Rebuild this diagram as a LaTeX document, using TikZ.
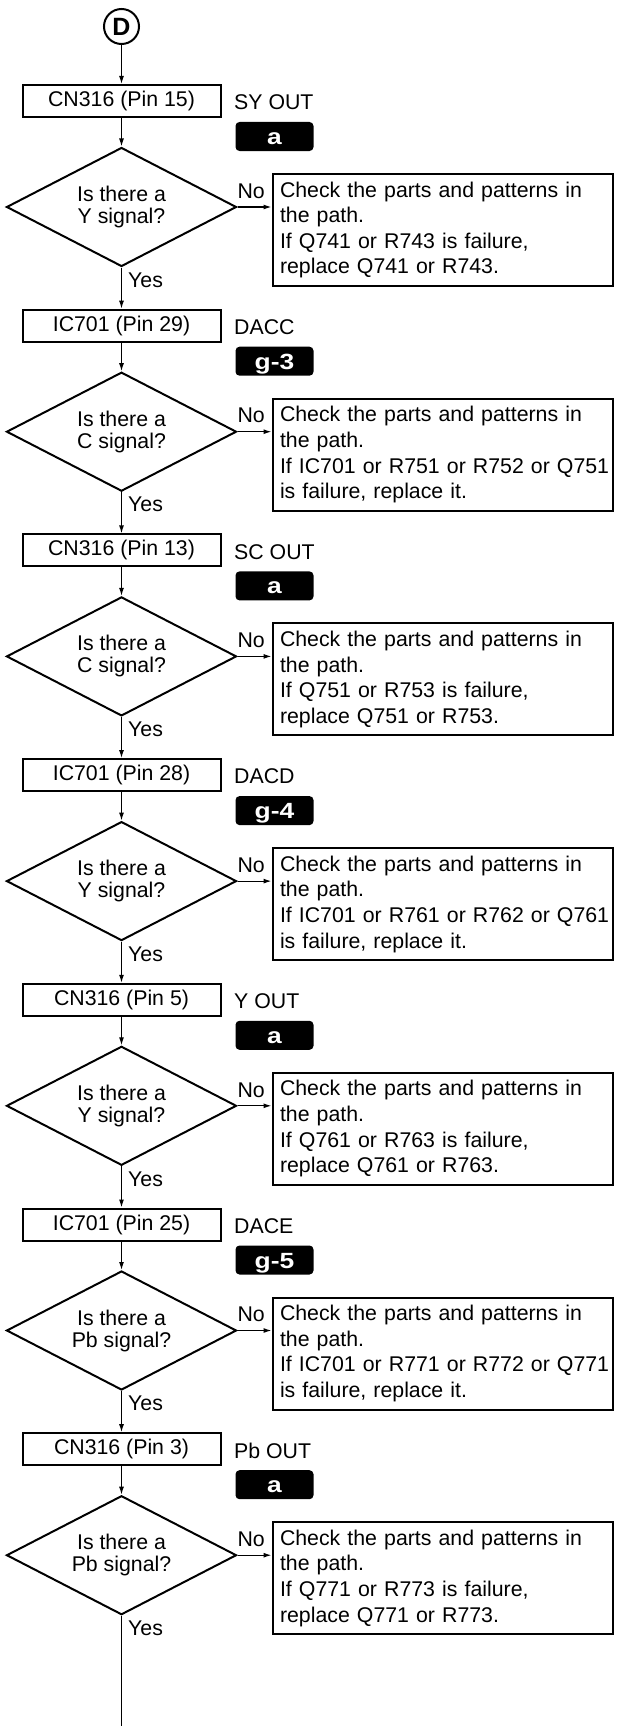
\documentclass[tikz,border=0pt]{standalone}
\usepackage{fontspec}
\setmainfont{Liberation Sans}
\newfontfamily\badgefont[FakeStretch=1.2]{Liberation Sans}
\usetikzlibrary{arrows.meta,shapes.geometric}
\tikzset{
  every node/.style={font=\fontsize{21.3}{25.6}\selectfont},
  pinbox/.style={draw, line width=2pt, minimum width=198pt, minimum height=32pt, inner sep=0pt},
  badge/.style={fill=black, rounded corners=4pt, minimum width=78pt, minimum height=29pt, inner sep=0pt, text=white, text height=16pt, text depth=0pt, font=\badgefont\fontsize{22}{22}\selectfont\bfseries},
  question/.style={diamond, draw, line width=2pt, minimum width=230pt, minimum height=119pt, aspect=1.93, inner sep=0pt, align=center, font=\fontsize{21.3}{22}\selectfont},
  checkbox/.style={draw, line width=2pt, anchor=north west, minimum width=340pt, minimum height=112pt, inner xsep=7.5pt, inner ysep=0pt, text width=325pt, align=left},
  flow/.style={line width=1.2pt, -{Latex[length=8pt,width=5pt]}},
  sig/.style={anchor=west, inner sep=0pt},
  lbl/.style={inner sep=0pt},
  startcircle/.style={circle, draw, line width=2pt, minimum size=35pt, inner sep=0pt, font=\fontsize{25}{25}\selectfont\bfseries},
}
\newcommand{\flowblock}[7]{%
  \node[pinbox] (b#1) at (121.5,{#2-106}) {#3};
  \node[sig] (l#1) at (234,{#2-104.5}) {#4};
  \node[badge] (g#1) at (274.5,{#2-70.5}) {#5};
  \node[question] (q#1) at (121.5,#2) {Is there a\\#6 signal?};
  \node[checkbox] (c#1) at (271.5,{#2-34}) {#7};
  \node[lbl, anchor=east] (n#1) at (265,{#2-16}) {No};
  \node[lbl, anchor=west] (y#1) at (128,{#2+73}) {Yes};
  \draw[flow] (b#1) -- (q#1);
  \draw[flow] (q#1.east) -- (c#1.west |- q#1.east);
}
\begin{document}
\begin{tikzpicture}[x=1pt,y=-1pt]
\fill[white] (0,0) rectangle (640,1726);
\useasboundingbox (0,0) rectangle (640,1726);
\node[startcircle] (D) at (121.5,26.5) {D};
\flowblock{1}{207}{CN316 (Pin 15)}{SY OUT}{a}{Y}{Check the parts and patterns in\\the path.\\If Q741 or R743 is failure,\\replace Q741 or R743.}
\flowblock{2}{431.7}{IC701 (Pin 29)}{DACC}{g-3}{C}{Check the parts and patterns in\\the path.\\\mbox{If IC701 or R751 or R752 or Q751}\\is failure, replace it.}
\flowblock{3}{656.4}{CN316 (Pin 13)}{SC OUT}{a}{C}{Check the parts and patterns in\\the path.\\If Q751 or R753 is failure,\\replace Q751 or R753.}
\flowblock{4}{881.1}{IC701 (Pin 28)}{DACD}{g-4}{Y}{Check the parts and patterns in\\the path.\\\mbox{If IC701 or R761 or R762 or Q761}\\is failure, replace it.}
\flowblock{5}{1105.8}{CN316 (Pin 5)}{Y OUT}{a}{Y}{Check the parts and patterns in\\the path.\\If Q761 or R763 is failure,\\replace Q761 or R763.}
\flowblock{6}{1330.5}{IC701 (Pin 25)}{DACE}{g-5}{Pb}{Check the parts and patterns in\\the path.\\\mbox{If IC701 or R771 or R772 or Q771}\\is failure, replace it.}
\flowblock{7}{1555.2}{CN316 (Pin 3)}{Pb OUT}{a}{Pb}{Check the parts and patterns in\\the path.\\If Q771 or R773 is failure,\\replace Q771 or R773.}
\draw[flow] (D) -- (b1);
\draw[flow] (q1) -- (b2);
\draw[flow] (q2) -- (b3);
\draw[flow] (q3) -- (b4);
\draw[flow] (q4) -- (b5);
\draw[flow] (q5) -- (b6);
\draw[flow] (q6) -- (b7);
\coordinate (tail) at (121.5,1726);
\draw[line width=1.2pt] (q7) -- (tail);
\end{tikzpicture}
\end{document}
